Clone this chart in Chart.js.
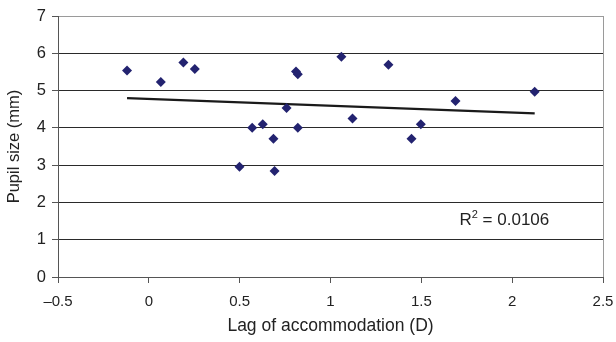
<!DOCTYPE html>
<html>
<head>
<meta charset="utf-8">
<script src="https://cdn.jsdelivr.net/npm/chart.js@4"></script>
<style>
  html,body{margin:0;padding:0;background:#fff;}
  #wrap{width:616px;height:342px;position:relative;}
</style>
</head>
<body>
<div id="wrap"><canvas id="c"></canvas></div>
<script>
// data
const lagX   = [-0.12, 0.066, 0.19, 0.253, 0.81, 0.82, 0.758, 0.569, 0.627, 0.686, 0.82, 0.499, 0.692, 1.06, 1.319, 1.121, 1.446, 1.497, 1.688, 2.124];
const pupilY = [5.54, 5.23, 5.75, 5.58, 5.51, 5.44, 4.53, 4.00, 4.10, 3.71, 4.00, 2.96, 2.84, 5.91, 5.69, 4.25, 3.71, 4.10, 4.72, 4.97];
const trendX = [-0.12, 2.124];
const trendY = [4.80, 4.39];
const xTicks = [-0.5, 0, 0.5, 1, 1.5, 2, 2.5];
const yTicks = [0, 1, 2, 3, 4, 5, 6, 7];
const r2Label = { x: 1.71, y: 1.52, text: '0.0106' };

const FONT = 'Liberation Sans, Arial, sans-serif';
const ink = '#222';

const r2Plugin = {
  id: 'r2',
  afterDatasetsDraw(chart) {
    const {ctx, scales:{x, y}} = chart;
    const px = x.getPixelForValue(r2Label.x), py = y.getPixelForValue(r2Label.y);
    ctx.save();
    ctx.fillStyle = ink;
    ctx.textBaseline = 'middle';
    ctx.font = `17px ${FONT}`;
    ctx.fillText('R', px, py);
    let w = ctx.measureText('R').width;
    ctx.font = `11px ${FONT}`;
    ctx.fillText('2', px + w, py - 5);
    w += ctx.measureText('2').width;
    ctx.font = `17px ${FONT}`;
    ctx.fillText(' = ' + r2Label.text, px + w, py);
    ctx.restore();
  }
};

new Chart(document.getElementById('c'), {
  type: 'scatter',
  data: {
    datasets: [
      {
        data: lagX.map((v,i)=>({x:v, y:pupilY[i]})),
        pointStyle: 'rectRot', pointRadius: 5,
        backgroundColor: '#232370', borderColor: '#232370', borderWidth: 0,
        order: 1
      },
      {
        type: 'line',
        data: trendX.map((v,i)=>({x:v, y:trendY[i]})),
        borderColor: '#1a1a1a', borderWidth: 2.2, pointRadius: 0, fill: false,
        order: 2
      }
    ]
  },
  plugins: [r2Plugin],
  options: {
    responsive: true, maintainAspectRatio: false, animation: false,
    layout: { padding: { top: 16, right: 13, left: 0, bottom: 0 } },
    plugins: { legend: { display: false }, tooltip: { enabled: false } },
    scales: {
      x: {
        type: 'linear', min: -0.5, max: 2.5,
        afterBuildTicks: s => { s.ticks = xTicks.map(v=>({value:v})); },
        afterFit: s => { s.height = 65; s.paddingLeft = 0; s.paddingRight = 0; },
        grid: {
          color: c => c.tick && c.tick.value === 2.5 ? '#9a9a9a' : 'rgba(0,0,0,0)',
          tickColor: '#555', tickLength: 6, lineWidth: 1
        },
        border: { color: '#555', width: 1 },
        ticks: {
          color: ink, font: { family: FONT, size: 15 }, padding: 10,
          maxRotation: 0,
          callback: v => v < 0 ? '\u2013' + Math.abs(v) : String(v)
        },
        title: {
          display: true, text: 'Lag of accommodation (D)', color: ink,
          font: { family: FONT, size: 17.5 }, padding: { top: 0, bottom: 5 }
        }
      },
      y: {
        min: 0, max: 7,
        afterBuildTicks: s => { s.ticks = yTicks.map(v=>({value:v})); },
        afterFit: s => { s.width = 58; s.paddingTop = 0; s.paddingBottom = 0; },
        grid: {
          color: c => c.tick && c.tick.value === 7 ? '#9a9a9a' : '#2a2a2a',
          tickColor: '#555', tickLength: 6, lineWidth: 1
        },
        border: { color: '#555', width: 1 },
        ticks: { color: ink, font: { family: FONT, size: 16.5 }, padding: 6 },
        title: {
          display: true, text: 'Pupil size (mm)', color: ink,
          font: { family: FONT, size: 16.5 }, padding: { top: 5, bottom: 0 }
        }
      }
    }
  }
});
</script>
</body>
</html>
